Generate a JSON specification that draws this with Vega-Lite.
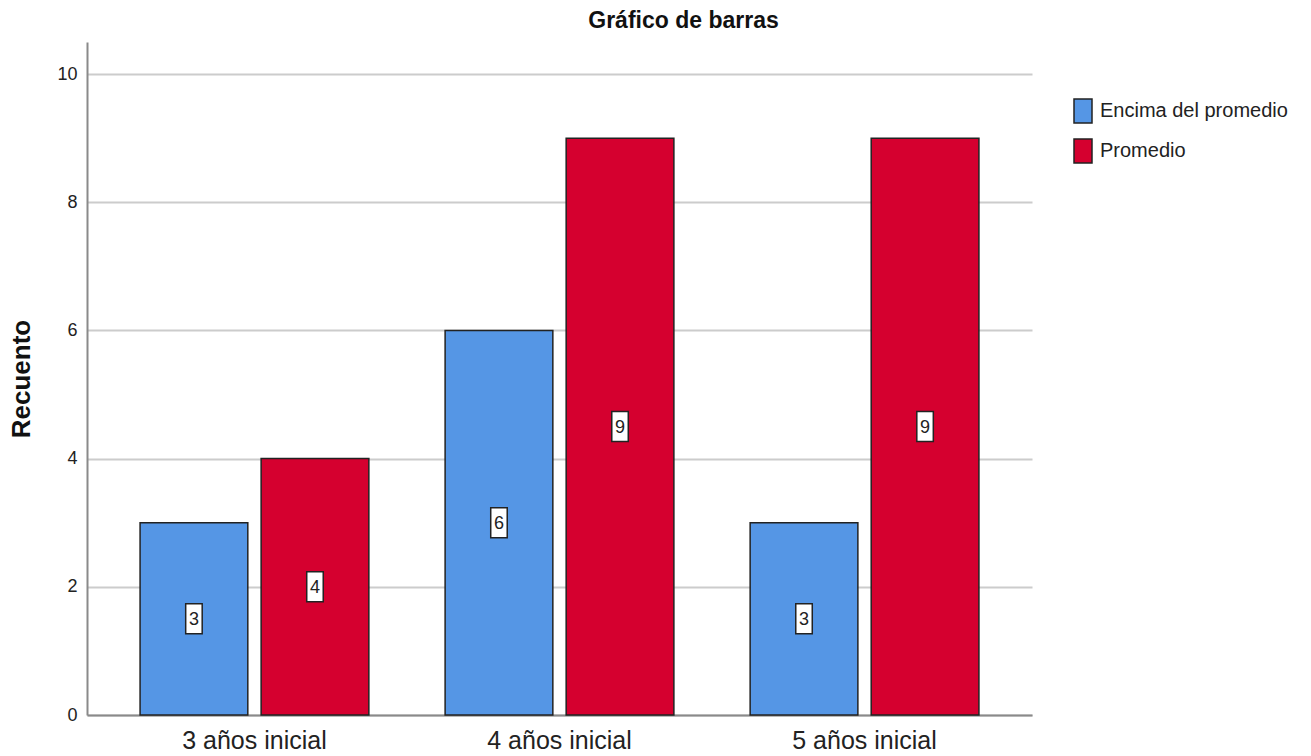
{
  "$schema": "https://vega.github.io/schema/vega-lite/v6.json",
  "width": 945,
  "height": 673,
  "autosize": {"type": "none"},
  "padding": {"left": 87, "top": 42, "right": 279, "bottom": 41},
  "background": "white",
  "title": {
    "text": "Gráfico de barras",
    "anchor": "middle",
    "frame": "group",
    "dx": 124,
    "offset": 9,
    "font": "Liberation Sans",
    "fontSize": 23,
    "fontWeight": "bold",
    "color": "#111111"
  },
  "config": {
    "view": {"stroke": null},
    "font": "Liberation Sans"
  },
  "data": {
    "values": [
      {"grupo": "3 años inicial", "nivel": "Encima del promedio", "recuento": 3},
      {"grupo": "3 años inicial", "nivel": "Promedio", "recuento": 4},
      {"grupo": "4 años inicial", "nivel": "Encima del promedio", "recuento": 6},
      {"grupo": "4 años inicial", "nivel": "Promedio", "recuento": 9},
      {"grupo": "5 años inicial", "nivel": "Encima del promedio", "recuento": 3},
      {"grupo": "5 años inicial", "nivel": "Promedio", "recuento": 9}
    ]
  },
  "transform": [{"calculate": "datum.recuento / 2", "as": "mitad"}],
  "encoding": {
    "x": {
      "field": "grupo",
      "type": "nominal",
      "sort": null,
      "scale": {"paddingInner": 0.25, "paddingOuter": 0.174},
      "axis": {
        "title": null,
        "labelAngle": 0,
        "ticks": false,
        "labelFontSize": 25,
        "labelColor": "#222222",
        "labelPadding": 13,
        "domainColor": "#8a8a8a",
        "domainWidth": 2,
        "grid": false
      }
    },
    "xOffset": {
      "field": "nivel",
      "type": "nominal",
      "scale": {"paddingInner": 0.11, "paddingOuter": 0}
    }
  },
  "layer": [
    {
      "mark": {"type": "bar", "stroke": "#222222", "strokeWidth": 1.5},
      "encoding": {
        "y": {
          "field": "recuento",
          "type": "quantitative",
          "scale": {"domain": [0, 10.5], "nice": false},
          "axis": {
            "title": "Recuento",
            "titleFontSize": 26,
            "titleFontWeight": "bold",
            "titleColor": "#111111",
            "titlePadding": 22,
            "values": [0, 2, 4, 6, 8, 10],
            "format": "d",
            "ticks": false,
            "labelFontSize": 18,
            "labelColor": "#222222",
            "labelPadding": 10,
            "domainColor": "#8a8a8a",
            "domainWidth": 2,
            "gridColor": "#cccccc",
            "gridWidth": 2
          }
        },
        "color": {
          "field": "nivel",
          "type": "nominal",
          "scale": {"domain": ["Encima del promedio", "Promedio"], "range": ["#5596E5", "#D5002F"]},
          "legend": {
            "title": null,
            "orient": "none",
            "legendX": 983,
            "legendY": 56,
            "symbolType": "M -0.75 -1 L 0.75 -1 L 0.75 1 L -0.75 1 Z",
            "symbolSize": 576,
            "symbolStrokeColor": "#222222",
            "symbolStrokeWidth": 1.5,
            "labelFont": "Liberation Sans",
            "labelFontSize": 20,
            "labelLimit": 300,
            "labelColor": "#222222",
            "labelOffset": 4,
            "rowPadding": 10
          }
        }
      }
    },
    {
      "mark": {
        "type": "point",
        "shape": "M -0.55 -1 L 0.55 -1 L 0.55 1 L -0.55 1 Z",
        "size": 900,
        "filled": true,
        "fill": "white",
        "stroke": "#222222",
        "strokeWidth": 1.5,
        "opacity": 1
      },
      "encoding": {
        "y": {"field": "mitad", "type": "quantitative"}
      }
    },
    {
      "mark": {"type": "text", "fontSize": 18, "color": "#222222", "baseline": "middle", "align": "center", "dy": 1},
      "encoding": {
        "y": {"field": "mitad", "type": "quantitative"},
        "text": {"field": "recuento", "type": "quantitative"}
      }
    }
  ]
}
